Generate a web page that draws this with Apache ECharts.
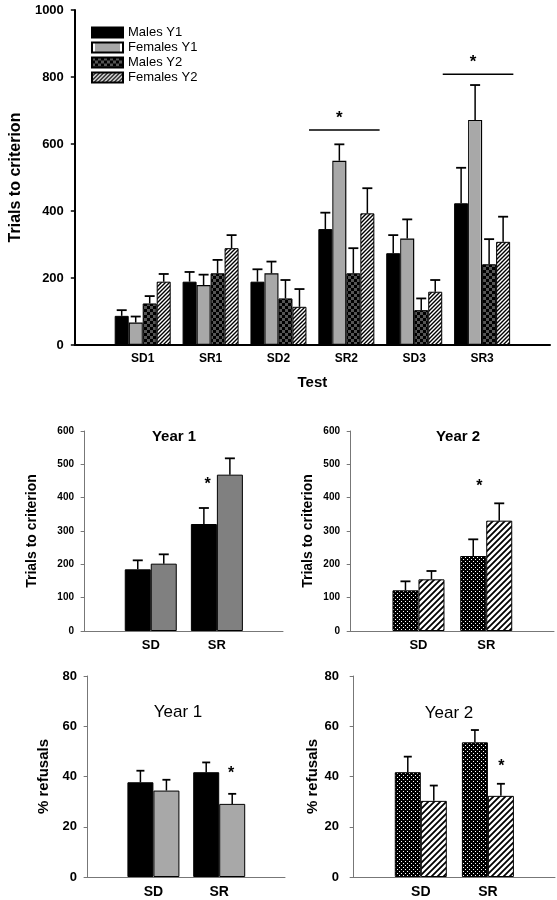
<!DOCTYPE html>
<html><head><meta charset="utf-8">
<script src="https://cdn.jsdelivr.net/npm/echarts@6/dist/echarts.min.js"></script>
<style>html,body{margin:0;padding:0;background:#fff}#c{width:557px;height:900px}</style>
</head><body><div id="c"></div>
<script>
// ---------- DATA ----------
const tests = ['SD1','SR1','SD2','SR2','SD3','SR3'];
const seriesNames = ['Males Y1','Females Y1','Males Y2','Females Y2'];
const malesY1 = [87, 189, 189, 346, 274, 423];
const malesY1Err = [17, 29, 37, 49, 54, 106];
const femalesY1 = [67, 179, 214, 550, 318, 672];
const femalesY1Err = [18, 31, 35, 49, 57, 104];
const malesY2 = [124, 214, 139, 214, 104, 241];
const malesY2Err = [22, 40, 55, 75, 35, 75];
const femalesY2 = [189, 289, 114, 393, 159, 308];
const femalesY2Err = [23, 39, 53, 75, 35, 75];
const topTicks = [0, 200, 400, 600, 800, 1000];
// significance brackets (top panel): [xStart, xEnd, value]
const sigBrackets = [[3.45, 4.49, 642], [5.42, 6.46, 808]];

const tasks = ['SD','SR'];
const trialsM1 = [185, 321], trialsM1Err = [27, 48];
const trialsF1 = [202, 469], trialsF1Err = [28, 49];
const trialsM2 = [122, 225], trialsM2Err = [27, 50];
const trialsF2 = [155, 331], trialsF2Err = [25, 52];

const refM1 = [37.7, 41.7], refM1Err = [4.6, 3.9];
const refF1 = [34.4, 29.1], refF1Err = [4.3, 4.0];
const refM2 = [41.7, 53.6], refM2Err = [6.2, 4.9];
const refF2 = [30.3, 32.3], refF2Err = [6.1, 4.8];

// star annotations: [panel, x, value]
const stars = [
  ['mid1', 1.86, 438], ['mid2', 1.9, 434],
  ['bot1', 2.18, 41], ['bot2', 2.2, 44]
];

// ---------- PATTERNS ----------
function mk(w, h, draw){ const c=document.createElement('canvas'); c.width=w; c.height=h; draw(c.getContext('2d'), w, h); return c; }
const checkerTop = mk(6,6,(g)=>{g.fillStyle='#000';g.fillRect(0,0,6,6);g.fillStyle='#555';g.fillRect(0,0,3,3);g.fillRect(3,3,3,3);});
const dots = mk(4,4,(g)=>{g.fillStyle='#000';g.fillRect(0,0,4,4);g.fillStyle='#fff';g.fillRect(1,1,1,1);g.fillRect(3,3,1,1);});
function hatch(n, lw){ return mk(n,n,(g)=>{g.fillStyle='#fff';g.fillRect(0,0,n,n);g.strokeStyle='#000';g.lineWidth=lw;g.beginPath();
  g.moveTo(0,n);g.lineTo(n,0);g.moveTo(-1,1);g.lineTo(1,-1);g.moveTo(n-1,n+1);g.lineTo(n+1,n-1);g.stroke();}); }
const hatchTop = hatch(4, 1.4);
const hatchMid = hatch(6, 1.8);
const P = c => ({image:c, repeat:'repeat'});
const grayEdged = {type:'linear', x:0, y:0, x2:1, y2:0, colorStops:[
  {offset:0, color:'#fff'}, {offset:0.11, color:'#fff'}, {offset:0.12, color:'#a8a8a8'},
  {offset:0.88, color:'#a8a8a8'}, {offset:0.89, color:'#fff'}, {offset:1, color:'#fff'}]};

// ---------- LAYOUT ----------
const grids = [
  {id:'top', left:70, top:10, width:480, height:335},
  {id:'mid1', left:82, top:431, width:201, height:200},
  {id:'mid2', left:348, top:431, width:206, height:200},
  {id:'bot1', left:85, top:676, width:200, height:201},
  {id:'bot2', left:351, top:676, width:204, height:201}
];
const gIndex = id => grids.findIndex(g=>g.id===id);
const FF = 'Liberation Sans, Arial';

const xAxes = [], yAxes = [];
xAxes.push({gridIndex:0, type:'value', min:0, max:7, interval:1, splitLine:{show:false},
  axisLine:{lineStyle:{color:'#000', width:2}}, axisTick:{show:false},
  axisLabel:{customValues:[1,2,3,4,5,6], formatter:v=>tests[Math.round(v)-1]||'', color:'#000', fontWeight:'bold', fontSize:12, margin:8, fontFamily:FF},
  name:'Test', nameLocation:'middle', nameGap:30, nameTextStyle:{color:'#000', fontWeight:'bold', fontSize:15, fontFamily:FF}});
yAxes.push({gridIndex:0, type:'value', min:0, max:1000, interval:200, splitLine:{show:false},
  axisLine:{show:true, lineStyle:{color:'#000', width:2}}, axisTick:{show:true, length:4, lineStyle:{color:'#000', width:1.5}},
  axisLabel:{color:'#000', fontWeight:'bold', fontSize:13, margin:11, fontFamily:FF, formatter:v=>topTicks.includes(v)?String(v):''},
  name:'Trials to criterion', nameLocation:'middle', nameGap:50, nameTextStyle:{color:'#000', fontWeight:'bold', fontSize:16, fontFamily:FF}});

function small(gi, ymax, yint, yname, nameGap, nameSize, xls, yls, ym){
  xAxes.push({gridIndex:gi, type:'value', min:-0.04, max:3, splitLine:{show:false},
    axisLine:{lineStyle:{color:'#777', width:1}}, axisTick:{show:false},
    axisLabel:{customValues:[1,2], formatter:v=>tasks[Math.round(v)-1]||'', color:'#000', fontWeight:'bold', fontSize:xls, margin:8, fontFamily:FF}});
  yAxes.push({gridIndex:gi, type:'value', min:0, max:ymax, interval:yint, splitLine:{show:false},
    axisLine:{show:true, lineStyle:{color:'#777', width:1}}, axisTick:{show:true, length:4, lineStyle:{color:'#777'}},
    axisLabel:{color:'#000', fontWeight:'bold', fontSize:yls, margin:ym, fontFamily:FF},
    name:yname, nameLocation:'middle', nameGap:nameGap, nameTextStyle:{color:'#000', fontWeight:'bold', fontSize:nameSize, fontFamily:FF}});
}
small(1, 600, 100, 'Trials to criterion', 43, 14, 13, 10, 8);
small(2, 600, 100, 'Trials to criterion', 33, 14, 13, 10, 8);
small(3, 80, 20, '% refusals', 34, 15, 14, 13, 8);
small(4, 80, 20, '% refusals', 31, 15, 14, 13, 12);

const series = [];
function barSeries(name, gi, vals, style, bw, legend){
  series.push({type:'bar', name: legend?name:undefined, xAxisIndex:gi, yAxisIndex:gi, barWidth:bw, barGap:'0%',
    data: vals.map((v,i)=>[i+1, v]), itemStyle:style, emphasis:{disabled:true}, silent:true, z:2});
}
function errSeries(gi, vals, errs, offset, cap){
  series.push({type:'custom', xAxisIndex:gi, yAxisIndex:gi, silent:true, z:3,
    data: vals.map((v,i)=>[i+1, v, errs[i]]),
    renderItem:(params, api)=>{
      const x=api.value(0), v=api.value(1), e=api.value(2);
      const p0=api.coord([x, v]), p1=api.coord([x, v+e]);
      const cx=p0[0]+offset;
      return {type:'group', children:[
        {type:'line', shape:{x1:cx, y1:p0[1], x2:cx, y2:p1[1]}, style:{stroke:'#000', lineWidth:1.5}},
        {type:'line', shape:{x1:cx-cap, y1:p1[1], x2:cx+cap, y2:p1[1]}, style:{stroke:'#000', lineWidth:1.8}}
      ]};
    }});
}
const border = {borderColor:'#000', borderWidth:1};
const bwT = 14;
const topStyles = [
  Object.assign({color:'#000'}, border),
  {color:grayEdged, borderColor:'#000', borderWidth:1.2},
  Object.assign({color:P(checkerTop)}, border),
  Object.assign({color:P(hatchTop)}, border)
];
const topData = [[malesY1,malesY1Err],[femalesY1,femalesY1Err],[malesY2,malesY2Err],[femalesY2,femalesY2Err]];
topData.forEach((d,k)=>barSeries(seriesNames[k], 0, d[0], topStyles[k], bwT, true));
topData.forEach((d,k)=>errSeries(0, d[0], d[1], (k-1.5)*bwT, 5));
series.push({type:'custom', xAxisIndex:0, yAxisIndex:0, silent:true, z:4, data:sigBrackets,
  renderItem:(params, api)=>{
    const a=api.coord([api.value(0), api.value(2)]), b=api.coord([api.value(1), api.value(2)]);
    return {type:'group', children:[
      {type:'line', shape:{x1:a[0], y1:a[1], x2:b[0], y2:b[1]}, style:{stroke:'#000', lineWidth:1.5}},
      {type:'text', x:(a[0]+b[0])/2-5, y:a[1]-12, style:{text:'*', fill:'#000', font:'bold 17px '+FF, align:'center', verticalAlign:'middle'}}
    ]};
  }});

const bwS = 26;
const blk = Object.assign({color:'#000'}, border);
barSeries('m1', 1, trialsM1, blk, bwS); barSeries('f1', 1, trialsF1, Object.assign({color:'#808080'}, border), bwS);
errSeries(1, trialsM1, trialsM1Err, -bwS/2, 5); errSeries(1, trialsF1, trialsF1Err, bwS/2, 5);
barSeries('m2', 2, trialsM2, Object.assign({color:P(dots)}, border), bwS); barSeries('f2', 2, trialsF2, Object.assign({color:P(hatchMid)}, border), bwS);
errSeries(2, trialsM2, trialsM2Err, -bwS/2, 5); errSeries(2, trialsF2, trialsF2Err, bwS/2, 5);
barSeries('m3', 3, refM1, blk, bwS); barSeries('f3', 3, refF1, Object.assign({color:'#a8a8a8'}, border), bwS);
errSeries(3, refM1, refM1Err, -bwS/2, 4); errSeries(3, refF1, refF1Err, bwS/2, 4);
barSeries('m4', 4, refM2, Object.assign({color:P(dots)}, border), bwS); barSeries('f4', 4, refF2, Object.assign({color:P(hatchMid)}, border), bwS);
errSeries(4, refM2, refM2Err, -bwS/2, 4); errSeries(4, refF2, refF2Err, bwS/2, 4);

stars.forEach(s=>{
  const gi = gIndex(s[0]);
  series.push({type:'custom', xAxisIndex:gi, yAxisIndex:gi, silent:true, z:4, data:[[s[1], s[2]]],
    renderItem:(params, api)=>{ const p=api.coord([api.value(0), api.value(1)]);
      return {type:'text', x:p[0], y:p[1], style:{text:'*', fill:'#000', font:'bold 16px '+FF, align:'center', verticalAlign:'middle'}}; }});
});

const titleText = (t, x, y, font) => ({type:'text', x, y, style:{text:t, fill:'#000', font, align:'center', verticalAlign:'middle'}});

const chart = echarts.init(document.getElementById('c'), null, {renderer:'canvas'});
chart.setOption({
  animation:false,
  backgroundColor:'#fff',
  grid: grids.map(g=>({left:g.left, top:g.top, width:g.width, height:g.height, containLabel:false})),
  xAxis: xAxes, yAxis: yAxes,
  legend:{data:seriesNames.map(n=>({name:n, icon:'rect'})), orient:'vertical', left:91, top:26, padding:0, itemWidth:31, itemHeight:10, itemGap:2,
    textStyle:{color:'#000', fontSize:13, fontFamily:FF}, selectedMode:false},
  graphic:[
    titleText('Year 1', 174, 437, 'bold 15px '+FF),
    titleText('Year 2', 458, 437, 'bold 15px '+FF),
    titleText('Year 1', 178, 712, '17px '+FF),
    titleText('Year 2', 449, 713, '17px '+FF)
  ],
  series
});
</script></body></html>
